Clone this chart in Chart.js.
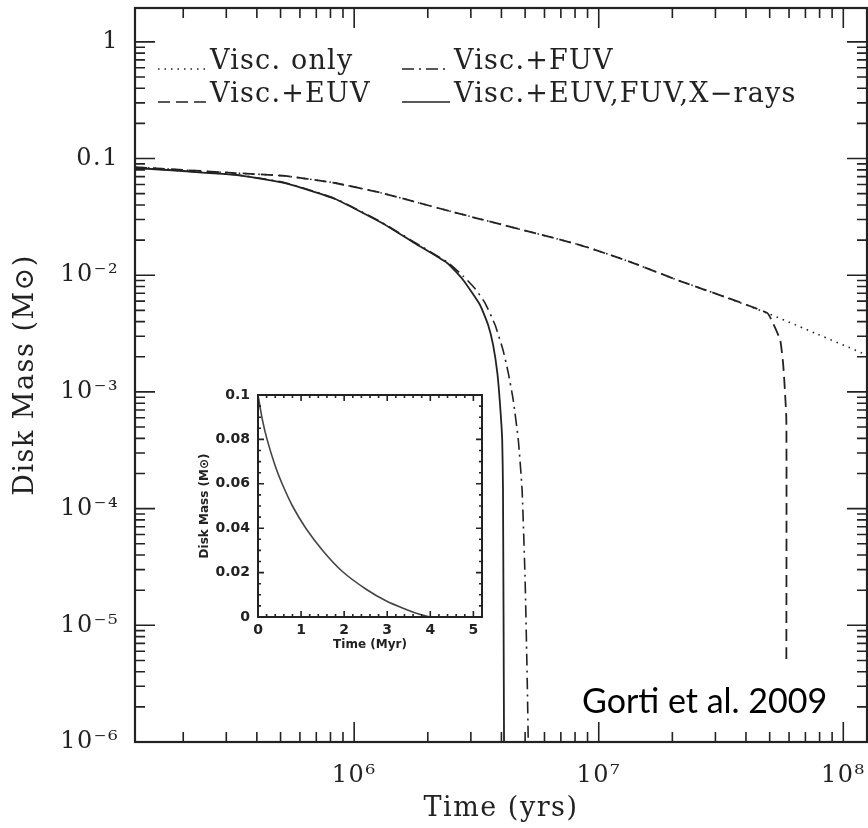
<!DOCTYPE html>
<html>
<head>
<meta charset="utf-8">
<script src="https://cdn.jsdelivr.net/npm/chart.js@4.4.1/dist/chart.umd.min.js"></script>
<style>
    html, body { margin: 0; padding: 0; background: #fff; }
    #wrap { position: relative; width: 868px; height: 828px; }
    #mainChart { position: absolute; left: 0; top: 0; }
    #insetChart { position: absolute; left: 180px; top: 370px; }
</style>
</head>
<body>
<div id="wrap">
    <canvas id="mainChart" width="868" height="828"></canvas>
    <canvas id="insetChart" width="310" height="290"></canvas>
</div>
<script>
// main panel: time in yrs, disk mass in solar masses
const viscOnlyTime = [1.27e5, 3.26e5, 5.22e5, 8.36e5, 1.30e6, 2.05e6, 3.27e6, 8.39e6, 1.35e7, 2.15e7, 3.29e7, 4.89e7, 7.83e7, 1.25e8];
const viscOnlyMass = [0.0845, 0.0751, 0.0709, 0.0617, 0.0506, 0.0392, 0.0303, 0.01815, 0.01297, 0.00891, 0.0065, 0.00474, 0.00313, 0.00207];

const viscEuvTime = [1.27e5, 3.26e5, 5.22e5, 8.36e5, 1.30e6, 2.05e6, 3.27e6, 8.39e6, 1.35e7, 2.15e7, 3.29e7, 4.89e7, 5.13e7, 5.52e7, 5.69e7, 5.85e7, 5.85e7];
const viscEuvMass = [0.0845, 0.0751, 0.0709, 0.0617, 0.0506, 0.0392, 0.0303, 0.01815, 0.01297, 0.00891, 0.0065, 0.00474, 0.00397, 0.00279, 0.00163, 5.74e-4, 4.75e-6];

const viscFuvTime = [1.27e5, 3.26e5, 5.22e5, 8.36e5, 1.30e6, 1.74e6, 2.40e6, 2.79e6, 3.13e6, 3.43e6, 3.77e6, 4.06e6, 4.26e6, 4.47e6, 4.69e6, 4.86e6, 5.00e6, 5.10e6, 5.15e6];
const viscFuvMass = [0.0835, 0.0727, 0.0621, 0.0453, 0.0283, 0.0195, 0.01297, 0.00984, 0.00762, 0.00578, 0.00374, 0.00229, 0.00148, 8.53e-4, 3.87e-4, 1.44e-4, 2.44e-5, 3.4e-6, 1e-6];

const allTime = [1.27e5, 3.26e5, 5.22e5, 8.36e5, 1.30e6, 1.74e6, 2.40e6, 2.79e6, 3.27e6, 3.53e6, 3.70e6, 3.85e6, 3.95e6, 4.03e6, 4.06e6, 4.10e6];
const allMass = [0.0830, 0.0723, 0.0617, 0.0450, 0.0280, 0.0192, 0.01274, 0.0091, 0.00556, 0.00374, 0.00252, 0.00145, 7.73e-4, 3.87e-4, 1.44e-4, 1e-6];

const xMajorTicks = [1e6, 1e7, 1e8];
const xTickLabels = ['10⁶', '10⁷', '10⁸'];
const yMajorTicks = [1e-6, 1e-5, 1e-4, 1e-3, 1e-2, 0.1, 1];
const yTickLabels = ['10⁻⁶', '10⁻⁵', '10⁻⁴', '10⁻³', '10⁻²', '0.1', '1'];
const seriesLabels = ['Visc. only', 'Visc.+EUV', 'Visc.+FUV', 'Visc.+EUV,FUV,X−rays'];

// inset: linear axes, time in Myr
const insetTime = [0, 0.1, 0.21, 0.4, 0.56, 0.8, 1.11, 1.5, 1.96, 2.51, 2.98, 3.44, 3.75, 4.0];
const insetMass = [0.1, 0.089, 0.08, 0.068, 0.06, 0.05, 0.04, 0.03, 0.0205, 0.0125, 0.0072, 0.0034, 0.0012, 0];
const insetXTicks = [0, 1, 2, 3, 4, 5];
const insetYTicks = [0, 0.02, 0.04, 0.06, 0.08, 0.1];
const insetYLabels = ['0', '0.02', '0.04', '0.06', '0.08', '0.1'];

const ink = '#222';
const serif = '"DejaVu Serif", serif';
const dashes = {
    dotted: [1.5, 5],
    dashed: [12, 6],
    dashDot: [12, 5, 2, 5],
    solid: [],
};

const toPoints = (xs, ys) => xs.map((x, i) => ({ x, y: ys[i] }));

const lineSet = (label, xs, ys, dash, width) => ({
    label,
    data: toPoints(xs, ys),
    borderColor: ink,
    borderWidth: width,
    borderDash: dash,
    pointRadius: 0,
    tension: 0.15,
    fill: false,
});

const logTickValues = (min, max) => {
    const values = [];
    for (let e = Math.floor(Math.log10(min)); e <= Math.ceil(Math.log10(max)); e++) {
        for (let k = 1; k <= 9; k++) {
            const v = k * Math.pow(10, e);
            if (v >= min * 0.999 && v <= max * 1.001) {
                values.push({ v, major: k === 1 });
            }
        }
    }
    return values;
};

const linTickValues = (min, max, step, majorEvery) => {
    const values = [];
    const n = Math.round((max - min) / step);
    for (let i = 0; i <= n; i++) {
        values.push({ v: min + i * step, major: i % majorEvery === 0 });
    }
    return values;
};

// frame + inward ticks on all four sides
const drawFrame = (chart, xTicks, yTicks, majorLen, minorLen, frameWidth) => {
    const { ctx, chartArea: a, scales } = chart;
    ctx.save();
    ctx.strokeStyle = ink;
    ctx.lineWidth = 1.6;
    ctx.setLineDash([]);
    ctx.beginPath();
    xTicks.forEach((t) => {
        const px = scales.x.getPixelForValue(t.v);
        if (px < a.left - 0.5 || px > a.right + 0.5) return;
        const len = t.major ? majorLen : minorLen;
        ctx.moveTo(px, a.bottom);
        ctx.lineTo(px, a.bottom - len);
        ctx.moveTo(px, a.top);
        ctx.lineTo(px, a.top + len);
    });
    yTicks.forEach((t) => {
        const py = scales.y.getPixelForValue(t.v);
        if (py < a.top - 0.5 || py > a.bottom + 0.5) return;
        const len = t.major ? majorLen : minorLen;
        ctx.moveTo(a.left, py);
        ctx.lineTo(a.left + len, py);
        ctx.moveTo(a.right, py);
        ctx.lineTo(a.right - len, py);
    });
    ctx.stroke();
    ctx.lineWidth = frameWidth;
    ctx.strokeRect(a.left, a.top, a.right - a.left, a.bottom - a.top);
    ctx.restore();
};

const mainDecor = {
    id: 'mainDecor',
    beforeDraw: (chart) => {
        const { ctx } = chart;
        ctx.save();
        ctx.fillStyle = '#fff';
        ctx.fillRect(0, 0, chart.width, chart.height);
        ctx.restore();
        // the old plotting font is set wide
        ctx.letterSpacing = '1.5px';
    },
    afterDraw: (chart) => {
        const { ctx, scales } = chart;
        drawFrame(
            chart,
            logTickValues(scales.x.min, scales.x.max),
            logTickValues(scales.y.min, scales.y.max),
            20,
            10,
            2.2
        );

        // legend in two columns, sample line then label
        const items = [
            { label: seriesLabels[0], dash: dashes.dotted, x: 158, y: 62 },
            { label: seriesLabels[1], dash: dashes.dashed, x: 158, y: 95 },
            { label: seriesLabels[2], dash: dashes.dashDot, x: 402, y: 62 },
            { label: seriesLabels[3], dash: dashes.solid, x: 402, y: 95 },
        ];
        ctx.save();
        ctx.strokeStyle = ink;
        ctx.fillStyle = ink;
        ctx.lineWidth = 1.6;
        ctx.font = `27px ${serif}`;
        ctx.letterSpacing = '1.2px';
        ctx.textBaseline = 'middle';
        items.forEach((item) => {
            ctx.setLineDash(item.dash);
            ctx.beginPath();
            ctx.moveTo(item.x, item.y + 7);
            ctx.lineTo(item.x + 48, item.y + 7);
            ctx.stroke();
            ctx.fillText(item.label, item.x + 52, item.y);
        });

        ctx.font = '34px Lato, "Open Sans", sans-serif';
        ctx.letterSpacing = '0px';
        ctx.textBaseline = 'alphabetic';
        ctx.fillStyle = '#000';
        ctx.fillText('Gorti et al. 2009', 582, 713);
        ctx.restore();
    },
};

const insetDecor = {
    id: 'insetDecor',
    beforeDatasetsDraw: (chart) => {
        const { ctx, chartArea: a } = chart;
        ctx.save();
        ctx.fillStyle = '#fff';
        ctx.fillRect(a.left, a.top, a.right - a.left, a.bottom - a.top);
        ctx.restore();
    },
    afterDraw: (chart) => {
        drawFrame(
            chart,
            linTickValues(0, 5.2, 0.2, 5),
            linTickValues(0, 0.1, 0.005, 4),
            6,
            3,
            2
        );
    },
};

new Chart(document.getElementById('mainChart'), {
    type: 'line',
    data: {
        datasets: [
            lineSet(seriesLabels[0], viscOnlyTime, viscOnlyMass, dashes.dotted, 1.6),
            lineSet(seriesLabels[1], viscEuvTime, viscEuvMass, dashes.dashed, 1.8),
            lineSet(seriesLabels[2], viscFuvTime, viscFuvMass, dashes.dashDot, 1.6),
            lineSet(seriesLabels[3], allTime, allMass, dashes.solid, 1.8),
        ],
    },
    options: {
        responsive: false,
        animation: false,
        events: [],
        layout: { padding: { top: 8, right: 1, left: 0, bottom: 0 } },
        plugins: {
            legend: { display: false },
            tooltip: { enabled: false },
        },
        scales: {
            x: {
                type: 'logarithmic',
                min: 1.27e5,
                max: 1.25e8,
                afterBuildTicks: (scale) => {
                    scale.ticks = xMajorTicks.map((value) => ({ value }));
                },
                afterFit: (scale) => {
                    scale.height = 86;
                    scale.paddingLeft = 0;
                    scale.paddingRight = 0;
                },
                grid: { display: false, drawTicks: false },
                border: { display: false },
                ticks: {
                    autoSkip: false,
                    maxRotation: 0,
                    padding: 19,
                    color: ink,
                    font: { family: serif, size: 24 },
                    callback: (value, index) => xTickLabels[index],
                },
                title: {
                    display: true,
                    text: 'Time (yrs)',
                    color: ink,
                    font: { family: serif, size: 27 },
                    padding: { top: 0, bottom: 3 },
                },
            },
            y: {
                type: 'logarithmic',
                min: 1e-6,
                max: 1.95,
                afterBuildTicks: (scale) => {
                    scale.ticks = yMajorTicks.map((value) => ({ value }));
                },
                afterFit: (scale) => {
                    scale.width = 135;
                    scale.paddingTop = 0;
                    scale.paddingBottom = 0;
                },
                grid: { display: false, drawTicks: false },
                border: { display: false },
                ticks: {
                    autoSkip: false,
                    padding: 16,
                    color: ink,
                    font: { family: serif, size: 24 },
                    callback: (value, index) => yTickLabels[index],
                },
                title: {
                    display: true,
                    text: 'Disk Mass (M⊙)',
                    color: ink,
                    font: { family: serif, size: 27 },
                    padding: { top: 10, bottom: 0 },
                },
            },
        },
    },
    plugins: [mainDecor],
});

const insetFont = { family: '"DejaVu Sans", sans-serif', size: 14, weight: 'bold' };

new Chart(document.getElementById('insetChart'), {
    type: 'line',
    data: {
        datasets: [
            {
                data: toPoints(insetTime, insetMass),
                borderColor: '#444',
                borderWidth: 1.6,
                pointRadius: 0,
                tension: 0.3,
                fill: false,
            },
        ],
    },
    options: {
        responsive: false,
        animation: false,
        events: [],
        layout: { padding: { top: 25, right: 8, left: 0, bottom: 0 } },
        plugins: {
            legend: { display: false },
            tooltip: { enabled: false },
        },
        scales: {
            x: {
                type: 'linear',
                min: 0,
                max: 5.2,
                afterBuildTicks: (scale) => {
                    scale.ticks = insetXTicks.map((value) => ({ value }));
                },
                afterFit: (scale) => {
                    scale.height = 43;
                    scale.paddingLeft = 0;
                    scale.paddingRight = 0;
                },
                grid: { display: false, drawTicks: false },
                border: { display: false },
                ticks: {
                    autoSkip: false,
                    maxRotation: 0,
                    padding: 5,
                    color: ink,
                    font: insetFont,
                    callback: (value) => String(value),
                },
                title: {
                    display: true,
                    text: 'Time (Myr)',
                    color: ink,
                    font: { family: '"DejaVu Sans", sans-serif', size: 12, weight: 'bold' },
                    padding: { top: 0, bottom: 8 },
                },
            },
            y: {
                type: 'linear',
                min: 0,
                max: 0.1,
                afterBuildTicks: (scale) => {
                    scale.ticks = insetYTicks.map((value) => ({ value }));
                },
                afterFit: (scale) => {
                    scale.width = 78;
                    scale.paddingTop = 0;
                    scale.paddingBottom = 0;
                },
                grid: { display: false, drawTicks: false },
                border: { display: false },
                ticks: {
                    autoSkip: false,
                    padding: 8,
                    color: ink,
                    font: insetFont,
                    callback: (value, index) => insetYLabels[index],
                },
                title: {
                    display: true,
                    text: 'Disk Mass (M⊙)',
                    color: ink,
                    font: { family: '"DejaVu Sans", sans-serif', size: 12, weight: 'bold' },
                    padding: { top: 18, bottom: 0 },
                },
            },
        },
    },
    plugins: [insetDecor],
});
</script>
</body>
</html>
